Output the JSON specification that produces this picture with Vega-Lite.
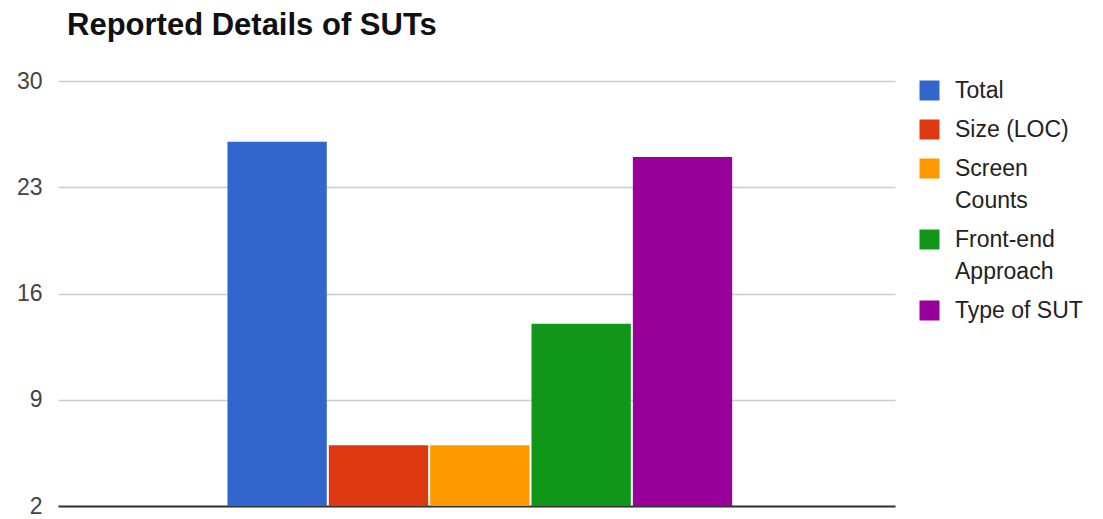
{
  "$schema": "https://vega.github.io/schema/vega-lite/v6.json",
  "autosize": {"type": "none"},
  "padding": {"left": 58, "top": 81, "right": 208, "bottom": 13},
  "width": 837,
  "height": 425,
  "background": "white",
  "title": {
    "text": "Reported Details of SUTs",
    "anchor": "start",
    "frame": "group",
    "baseline": "alphabetic",
    "offset": 4,
    "dx": 9,
    "font": "Liberation Sans",
    "fontSize": 31,
    "fontWeight": "bold",
    "color": "#111111"
  },
  "data": {
    "values": [
      {"group": "SUTs", "series": "Total", "value": 26},
      {"group": "SUTs", "series": "Size (LOC)", "value": 6},
      {"group": "SUTs", "series": "Screen Counts", "value": 6},
      {"group": "SUTs", "series": "Front-end Approach", "value": 14},
      {"group": "SUTs", "series": "Type of SUT", "value": 25}
    ]
  },
  "mark": {"type": "bar", "clip": true},
  "encoding": {
    "x": {
      "field": "group",
      "type": "nominal",
      "scale": {"paddingInner": 0.397, "paddingOuter": 0.1985, "align": 0.51},
      "axis": {
        "title": null,
        "labels": false,
        "ticks": false,
        "domain": true,
        "domainColor": "#333333",
        "domainWidth": 2,
        "grid": false
      }
    },
    "xOffset": {
      "field": "series",
      "type": "nominal",
      "sort": null,
      "scale": {"paddingInner": 0.02, "paddingOuter": 0}
    },
    "y": {
      "field": "value",
      "type": "quantitative",
      "scale": {"domain": [2, 30], "nice": false, "zero": false},
      "axis": {
        "title": null,
        "values": [2, 9, 16, 23, 30],
        "domain": false,
        "ticks": false,
        "grid": true,
        "gridColor": "#cccccc",
        "gridWidth": 1.5,
        "labelPadding": 16,
        "labelFont": "Liberation Sans",
        "labelFontSize": 23,
        "labelColor": "#444444"
      }
    },
    "y2": {"datum": 2},
    "color": {
      "field": "series",
      "type": "nominal",
      "sort": null,
      "scale": {
        "domain": ["Total", "Size (LOC)", "Screen Counts", "Front-end Approach", "Type of SUT"],
        "range": ["#3366cc", "#dc3912", "#ff9900", "#109618", "#990099"]
      },
      "legend": {
        "title": null,
        "orient": "none",
        "legendX": 860,
        "legendY": -2,
        "symbolType": "square",
        "symbolSize": 400,
        "symbolStrokeWidth": 0,
        "symbolOpacity": 1,
        "labelFont": "Liberation Sans",
        "labelFontSize": 23,
        "labelColor": "#222222",
        "labelOffset": 14,
        "rowPadding": 15,
        "labelLimit": 200,
        "labelExpr": "datum.label == 'Screen Counts' ? ['Screen', 'Counts'] : datum.label == 'Front-end Approach' ? ['Front-end', 'Approach'] : datum.label"
      }
    }
  },
  "config": {
    "view": {"stroke": null},
    "style": {"guide-label": {"lineHeight": 32}}
  }
}
